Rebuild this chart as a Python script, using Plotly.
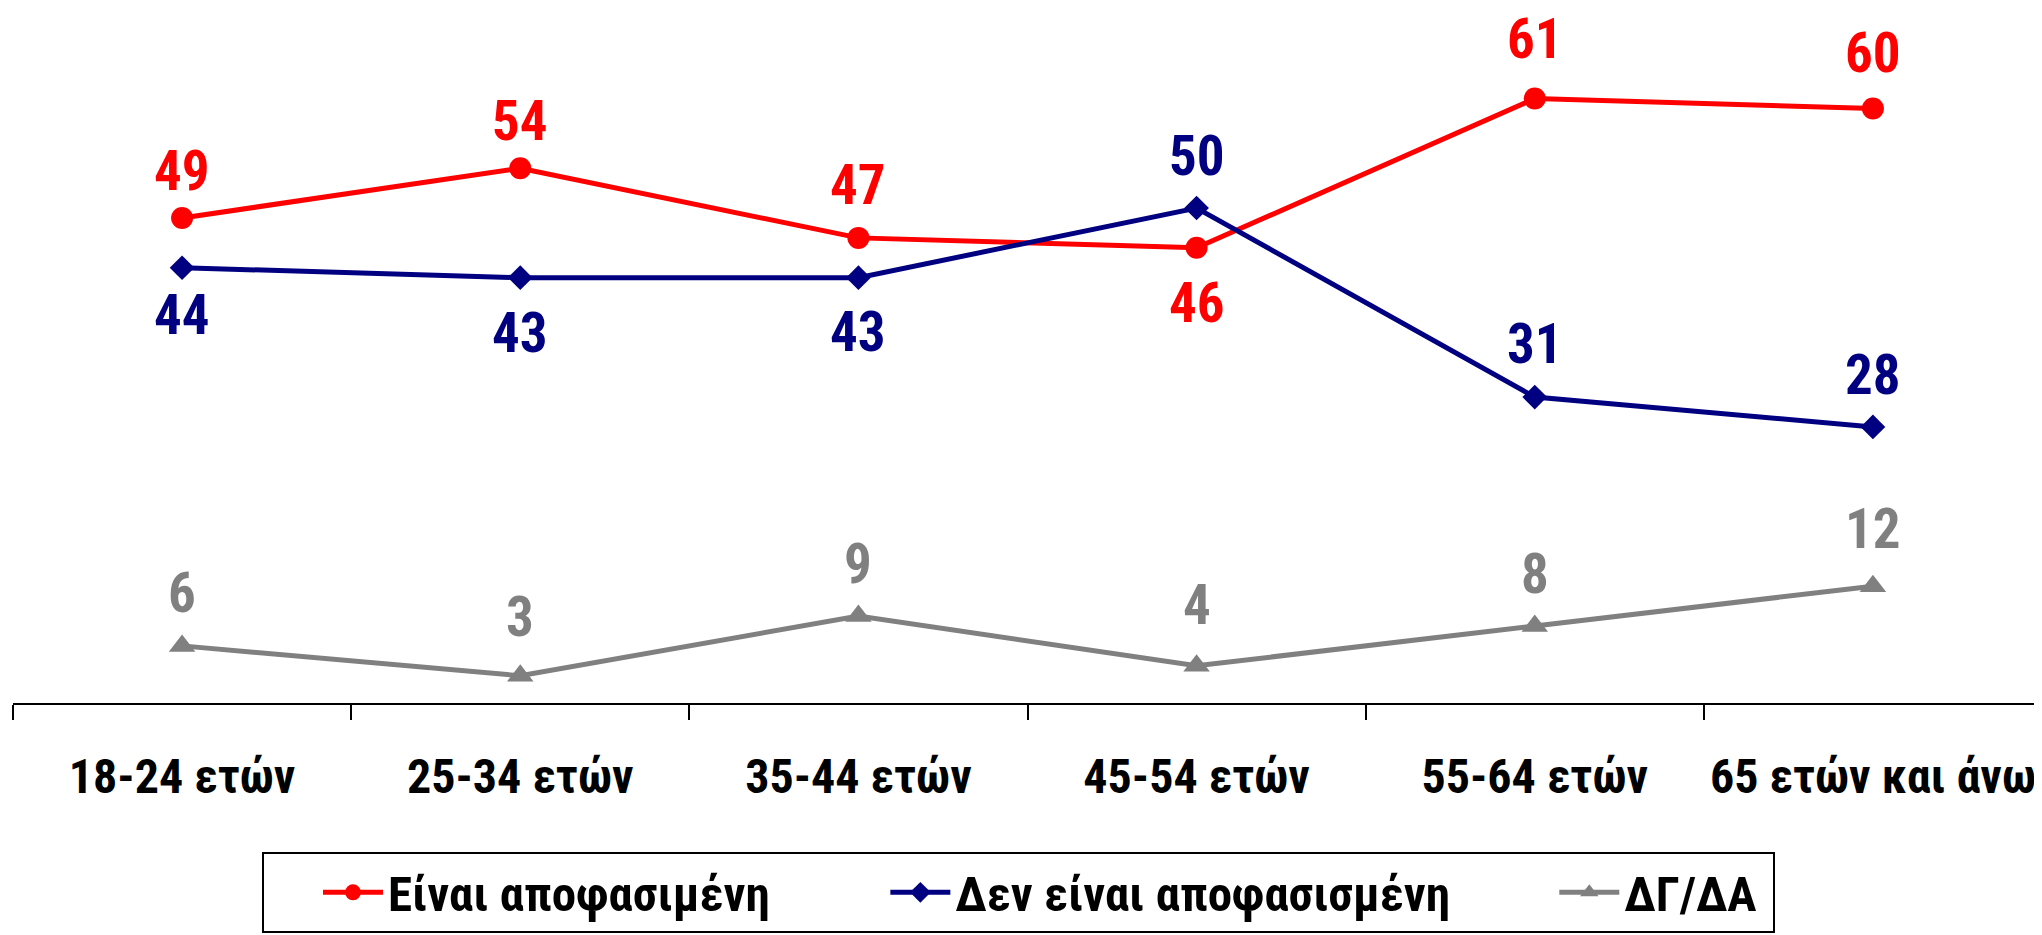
import plotly.graph_objects as go

categories = ["18-24 ετών", "25-34 ετών", "35-44 ετών", "45-54 ετών", "55-64 ετών", "65 ετών και άνω"]
decided = [49, 54, 47, 46, 61, 60]
undecided = [44, 43, 43, 50, 31, 28]
dkna = [6, 3, 9, 4, 8, 12]

names = ["Είναι αποφασιμένη", "Δεν είναι αποφασισμένη", "ΔΓ/ΔΑ"]
colors = ["#FF0000", "#000080", "#808080"]

# vertical offset (px) of each value label from its marker (+ = above)
decided_shift = [47, 47, 53, -55, 60, 56]
undecided_shift = [-47, -55, -54, 52, 53, 52]
dkna_shift = [53, 59, 52, 61, 52, 57]

FONT = "Roboto Condensed, Open Sans Condensed, Liberation Sans, sans-serif"
NB = "\u00a0"

# page body has an 8px margin; figure sized to fit the 2042x935 window
W, H = 2034, 927

fig = go.Figure()
series = [
    (decided, names[0] + NB * 5, colors[0], "circle", 22, decided_shift),
    (undecided, names[1] + NB * 4, colors[1], "diamond", 19, undecided_shift),
    (dkna, names[2] + NB * 1, colors[2], "triangle-up", 23, dkna_shift),
]
for vals, nm, col, sym, sz, shifts in series:
    fig.add_trace(go.Scatter(
        x=categories, y=vals, name=nm, mode="lines+markers",
        line=dict(color=col, width=5),
        marker=dict(symbol=sym, size=sz, color=col),
        cliponaxis=False,
    ))
    for c, v, s in zip(categories, vals, shifts):
        fig.add_annotation(
            x=c, y=v, text=str(v), showarrow=False, yshift=s,
            xanchor="center", yanchor="middle",
            font=dict(family=FONT, size=55, color=col, weight=700),
        )

fig.update_layout(
    width=W, height=H,
    margin=dict(l=5, r=0, t=1, b=232, autoexpand=False),
    paper_bgcolor="white", plot_bgcolor="white",
    showlegend=True,
    legend=dict(
        orientation="h", xref="container", yref="container",
        x=254 / W, y=(H - 844) / H, xanchor="left", yanchor="top",
        bordercolor="black", borderwidth=2, bgcolor="white",
        indentation=54, itemwidth=60,
        font=dict(family=FONT, size=49, color="black", weight=700),
    ),
    xaxis=dict(
        type="category", range=[-0.5, 5.5], automargin=False, tickangle=0,
        showline=True, linecolor="black", linewidth=2,
        ticks="outside", ticklen=15, tickwidth=2, tickcolor="black",
        tickson="boundaries", showgrid=False, zeroline=False,
        ticklabelstandoff=30,
        tickfont=dict(family=FONT, size=48, color="black", weight=700),
    ),
    yaxis=dict(range=[0.26, 70], visible=False, showgrid=False, zeroline=False),
)

fig.write_html("out.html")
